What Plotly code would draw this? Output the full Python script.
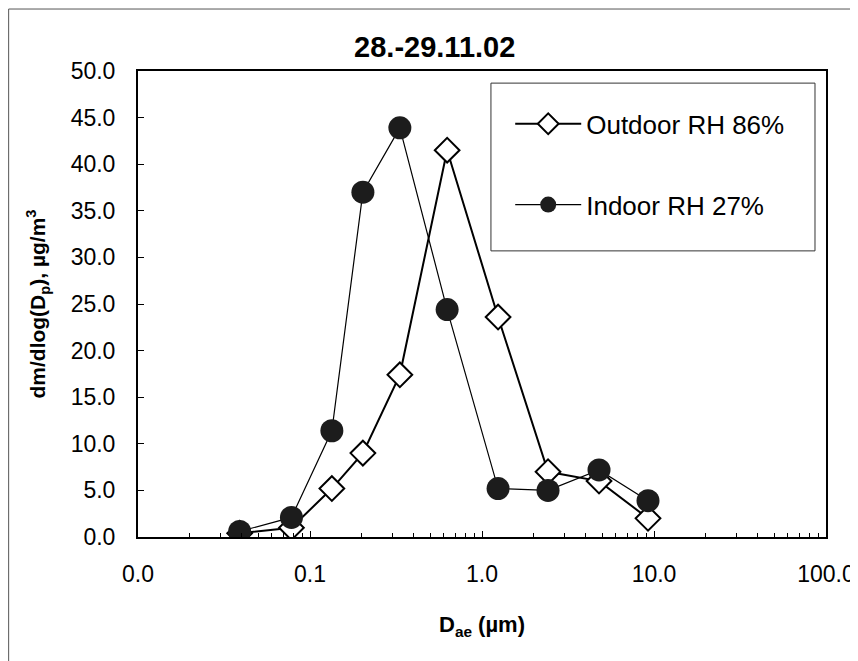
import plotly.graph_objects as go

# ---- data ----
diameter_um = [0.039, 0.078, 0.134, 0.203, 0.333, 0.627, 1.24, 2.42, 4.79, 9.23]
outdoor_rh86 = [0.4, 1.0, 5.2, 9.0, 17.4, 41.5, 23.6, 7.0, 6.0, 2.0]
indoor_rh27 = [0.6, 2.1, 11.4, 37.0, 43.9, 24.4, 5.2, 5.0, 7.2, 3.9]

x_tickvals = [0.01, 0.1, 1, 10, 100]
x_ticktext = ["0.0", "0.1", "1.0", "10.0", "100.0"]

FONT = "Liberation Sans, Arial, Helvetica, sans-serif"

fig = go.Figure()
fig.add_trace(go.Scatter(
    x=diameter_um, y=outdoor_rh86, mode="lines+markers",
    name="Outdoor RH 86%", legendgroup="a",
    line=dict(color="black", width=2),
    marker=dict(symbol="diamond", size=19, color="white",
                line=dict(color="black", width=2)),
))
fig.add_trace(go.Scatter(
    x=diameter_um, y=indoor_rh27, mode="lines+markers",
    name="Indoor RH 27%", legendgroup="b",
    line=dict(color="black", width=1.2),
    marker=dict(symbol="circle", size=23, color="#1c1c1c",
                line=dict(color="#1c1c1c", width=0)),
))

minor_vals = [k * 10.0 ** e for e in range(-2, 2) for k in range(2, 10)]

fig.update_layout(
    width=850, height=653,
    margin=dict(l=130, r=32, t=63, b=124, autoexpand=False),
    paper_bgcolor="white", plot_bgcolor="white",
    font=dict(family=FONT, color="black"),
    title=dict(text="<b>28.-29.11.02</b>", x=0.502, xanchor="center",
               y=0.94, yanchor="middle", font=dict(size=29, family=FONT)),
    showlegend=True,
    legend=dict(x=0.541, y=0.937, xanchor="left", yanchor="top",
                borderwidth=0, bgcolor="rgba(0,0,0,0)",
                font=dict(size=26, family=FONT),
                traceorder="grouped", tracegroupgap=44,
                itemwidth=66, itemsizing="trace"),
    xaxis=dict(
        type="log", range=[-2, 2], automargin=False,
        tickvals=x_tickvals, ticktext=x_ticktext,
        ticks="inside", ticklen=6, tickwidth=1, tickcolor="black",
        ticklabelstandoff=15,
        tickfont=dict(size=23, family=FONT),
        minor=dict(tickvals=minor_vals, ticks="inside", ticklen=4,
                   tickcolor="black", showgrid=False),
        showline=True, linecolor="black", linewidth=2, mirror=True,
        showgrid=False, zeroline=False,
        title=dict(text="<b>D<sub>ae</sub> (µm)</b>", font=dict(size=22, family=FONT),
                   standoff=31),
    ),
    yaxis=dict(
        range=[0, 50], dtick=5, tickformat=".1f", automargin=False,
        ticks="inside", ticklen=6, tickwidth=1, tickcolor="black",
        ticklabelstandoff=16,
        tickfont=dict(size=23, family=FONT),
        showline=True, linecolor="black", linewidth=2, mirror=True,
        showgrid=False, zeroline=False,
        title=dict(text="<b>dm/dlog(D<sub>p</sub>), µg/m<sup>3</sup></b>",
                   font=dict(size=21, family=FONT), standoff=19),
    ),
    shapes=[
        # legend frame
        dict(type="rect", xref="paper", yref="paper",
             x0=0.513, x1=0.984, y0=0.614, y1=0.974,
             line=dict(color="#333333", width=1), fillcolor="rgba(0,0,0,0)"),
        # outer figure frame
        dict(type="rect", xref="paper", yref="paper",
             x0=-0.188, x1=1.08, y0=-0.35, y1=1.133,
             line=dict(color="#555555", width=1), fillcolor="rgba(0,0,0,0)"),
    ],
)

fig.write_html("out.html")
